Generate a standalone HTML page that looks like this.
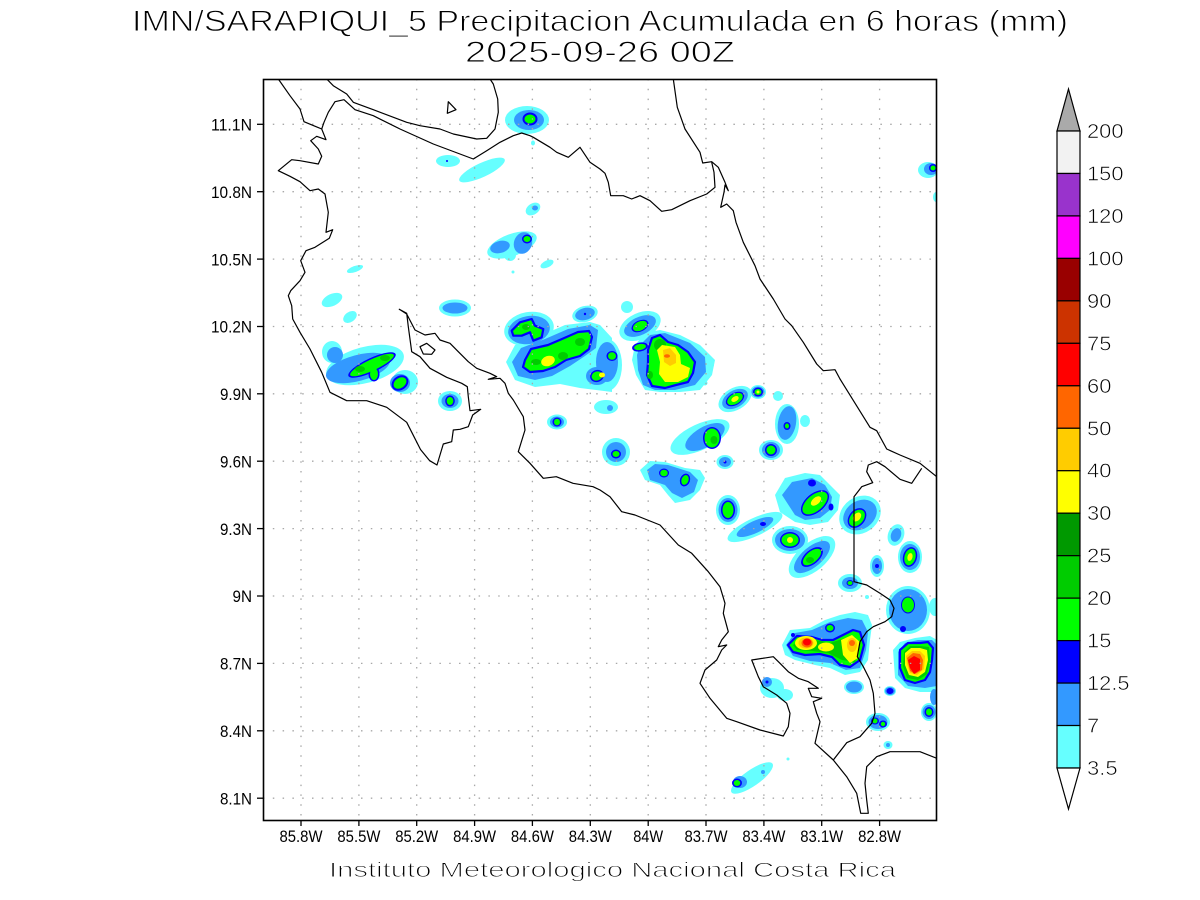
<!DOCTYPE html>
<html><head><meta charset="utf-8"><style>
html,body{margin:0;padding:0;background:#fff;}
svg{display:block;}
.c{fill:#66ffff}.l{fill:#3399ff}.b{fill:#0000ff}.g{fill:#00ff00}.g2{fill:#00cc00}.g3{fill:#009900}
.y{fill:#ffff00}.o1{fill:#ffcc00}.o2{fill:#ff6600}.r{fill:#ff0000}
.gs{fill:#00ff00;stroke:#0000ff;stroke-width:2.2;stroke-linejoin:round}
.coast{fill:none;stroke:#000;stroke-width:1.2;stroke-linejoin:round}
.grid{stroke:#a8a8a8;stroke-width:1.3;stroke-dasharray:1.5 8.3}
text{font-family:"Liberation Sans",sans-serif;fill:#000}
.thin{stroke:#fff;stroke-width:0.9;paint-order:normal}
.thin2{stroke:#fff;stroke-width:0.6;paint-order:normal}
</style></head><body>
<svg width="1200" height="900" viewBox="0 0 1200 900" xmlns="http://www.w3.org/2000/svg">
<defs><clipPath id="fr"><rect x="263" y="79" width="673" height="741"/></clipPath></defs>
<rect width="1200" height="900" fill="#fff"/>

<text class="thin" x="600" y="31" font-size="30" text-anchor="middle" textLength="936" lengthAdjust="spacingAndGlyphs">IMN/SARAPIQUI_5 Precipitacion Acumulada en 6 horas (mm)</text>
<text class="thin" x="600" y="62" font-size="30" text-anchor="middle" textLength="270" lengthAdjust="spacingAndGlyphs">2025-09-26 00Z</text>

<g clip-path="url(#fr)">
<!-- cyan -->
<g class="c">
<ellipse cx="527" cy="120" rx="22" ry="14"/>
<ellipse cx="533" cy="143" rx="2" ry="2.5"/>
<ellipse cx="448" cy="161" rx="12" ry="6"/>
<ellipse cx="482" cy="170" rx="25" ry="7" transform="rotate(-25 482 170)"/>
<ellipse cx="928" cy="170" rx="10" ry="8"/>
<ellipse cx="936" cy="197" rx="3" ry="5"/>
<ellipse cx="533" cy="209" rx="8" ry="5.5" transform="rotate(-35 533 209)"/>
<ellipse cx="512" cy="245" rx="26" ry="11" transform="rotate(-20 512 245)"/>
<ellipse cx="510" cy="255" rx="6" ry="6"/>
<ellipse cx="547" cy="264" rx="7" ry="3.5" transform="rotate(-25 547 264)"/>
<circle cx="513" cy="272" r="1.5"/>
<ellipse cx="355" cy="269" rx="8.5" ry="3" transform="rotate(-20 355 269)"/>
<ellipse cx="332" cy="300" rx="11" ry="6" transform="rotate(-25 332 300)"/>
<ellipse cx="350" cy="317" rx="7.5" ry="5" transform="rotate(-35 350 317)"/>
<ellipse cx="455" cy="308" rx="16" ry="8.5"/>
<ellipse cx="365" cy="365" rx="40" ry="18" transform="rotate(-15 365 365)"/>
<ellipse cx="405" cy="382" rx="13" ry="12"/>
<ellipse cx="332" cy="352" rx="10" ry="11"/>
<ellipse cx="450" cy="401" rx="12" ry="10"/>
<ellipse cx="557" cy="422" rx="10" ry="7.5"/>
<ellipse cx="529" cy="329" rx="25" ry="17" transform="rotate(-10 529 329)"/>
<polygon points="506,362 515,345 540,336 565,325 590,322 600,325 612,338 612,392 580,388 560,384 535,387 515,380"/>
<ellipse cx="585" cy="314" rx="13" ry="8" transform="rotate(-15 585 314)"/>
<ellipse cx="606" cy="407" rx="12" ry="7"/>
<circle cx="627" cy="307" r="6"/>
<ellipse cx="640" cy="326" rx="22" ry="13" transform="rotate(-25 640 326)"/>
<ellipse cx="607" cy="365" rx="15" ry="26"/>
<polygon points="635,345 645,333 660,330 680,335 700,345 715,360 712,375 700,390 680,392 660,392 645,390 636,375 632,360"/>
<ellipse cx="735" cy="399" rx="18" ry="11" transform="rotate(-30 735 399)"/>
<ellipse cx="758" cy="392" rx="8" ry="7"/>
<circle cx="778" cy="396" r="5"/>
<ellipse cx="787" cy="424" rx="12" ry="20"/>
<ellipse cx="805" cy="421" rx="5" ry="6"/>
<ellipse cx="700" cy="437" rx="32" ry="13" transform="rotate(-25 700 437)"/>
<ellipse cx="708" cy="365" rx="6" ry="4"/>
<circle cx="705" cy="383" r="2.5"/>
<ellipse cx="771" cy="450" rx="12" ry="10"/>
<ellipse cx="616" cy="452" rx="14" ry="14"/>
<ellipse cx="725" cy="462" rx="8.5" ry="7"/>
<polygon points="640,470 650,461 665,462 685,468 700,470 705,478 700,490 690,500 675,503 668,495 660,485 645,480"/>
<ellipse cx="728" cy="510" rx="12" ry="15"/>
<ellipse cx="755" cy="527" rx="30" ry="9" transform="rotate(-25 755 527)"/>
<ellipse cx="790" cy="540" rx="18" ry="14"/>
<polygon points="775,495 785,478 805,473 820,475 830,485 840,495 838,510 828,522 810,525 795,522 780,512"/>
<ellipse cx="812" cy="557" rx="28" ry="14" transform="rotate(-40 812 557)"/>
<ellipse cx="860" cy="515" rx="22" ry="18" transform="rotate(-35 860 515)"/>
<ellipse cx="896" cy="535" rx="8" ry="11" transform="rotate(20 896 535)"/>
<ellipse cx="877" cy="566" rx="7" ry="11"/>
<ellipse cx="910" cy="557" rx="12" ry="16"/>
<ellipse cx="850" cy="583" rx="12" ry="9"/>
<circle cx="867" cy="597" r="2"/>
<ellipse cx="908" cy="610" rx="22" ry="24"/>
<ellipse cx="935" cy="607" rx="6" ry="9"/>
<polygon points="782,645 790,630 810,628 825,620 840,615 855,612 868,615 872,625 870,640 868,660 860,672 845,675 830,668 815,665 795,660 785,655"/>
<polygon points="893,650 900,642 915,638 930,636 937,640 937,692 920,692 905,688 895,678"/>
<ellipse cx="854" cy="687" rx="10" ry="7"/>
<ellipse cx="772" cy="688" rx="12" ry="10"/>
<ellipse cx="785" cy="695" rx="8" ry="6"/>
<ellipse cx="890" cy="691" rx="6" ry="5"/>
<ellipse cx="929" cy="712" rx="8" ry="9"/>
<ellipse cx="878" cy="722" rx="12" ry="9"/>
<ellipse cx="888" cy="745" rx="4.5" ry="4"/>
<ellipse cx="752" cy="778" rx="25" ry="8" transform="rotate(-35 752 778)"/>
<circle cx="788" cy="759" r="1.5"/>
</g>
<!-- light blue -->
<g class="l">
<ellipse cx="529" cy="120" rx="15" ry="10"/>
<ellipse cx="931" cy="169" rx="7" ry="6"/>
<ellipse cx="535" cy="208" rx="3" ry="2.5"/>
<ellipse cx="500" cy="247" rx="10" ry="6" transform="rotate(-15 500 247)"/>
<ellipse cx="523" cy="243" rx="9" ry="11" transform="rotate(20 523 243)"/>
<ellipse cx="455" cy="308" rx="12.5" ry="5.5"/>
<ellipse cx="358" cy="368" rx="33" ry="13" transform="rotate(-15 358 368)"/>
<ellipse cx="335" cy="355" rx="8" ry="8"/>
<ellipse cx="400" cy="383" rx="10" ry="9"/>
<ellipse cx="450" cy="401" rx="8.5" ry="7"/>
<ellipse cx="557" cy="422" rx="7" ry="5.5"/>
<ellipse cx="529" cy="330" rx="21" ry="14" transform="rotate(-10 529 330)"/>
<polygon points="512,362 521,348 545,339 568,329 590,325 598,330 596,348 585,356 570,366 552,376 535,380 518,376"/>
<ellipse cx="597" cy="376" rx="11" ry="9"/>
<ellipse cx="585" cy="314" rx="10" ry="6" transform="rotate(-15 585 314)"/>
<ellipse cx="610" cy="408" rx="3" ry="3"/>
<ellipse cx="640" cy="326" rx="17" ry="9" transform="rotate(-25 640 326)"/>
<ellipse cx="607" cy="362" rx="11" ry="20"/>
<polygon points="640,345 650,335 665,333 690,343 705,357 706,372 695,385 675,390 655,390 643,385 638,370 637,355"/>
<ellipse cx="735" cy="399" rx="14" ry="8.5" transform="rotate(-30 735 399)"/>
<ellipse cx="758" cy="392" rx="6.5" ry="5.5"/>
<ellipse cx="787" cy="423" rx="9" ry="17" transform="rotate(10 787 423)"/>
<ellipse cx="705" cy="437" rx="22" ry="10" transform="rotate(-30 705 437)"/>
<ellipse cx="771" cy="450" rx="9" ry="8"/>
<ellipse cx="616" cy="452" rx="10" ry="10"/>
<ellipse cx="725" cy="462" rx="6" ry="5"/>
<polygon points="647,470 655,464 668,465 690,472 698,480 694,492 682,498 672,493 665,485 650,480"/>
<ellipse cx="728" cy="510" rx="9.5" ry="12"/>
<ellipse cx="755" cy="527" rx="20" ry="6" transform="rotate(-25 755 527)"/>
<ellipse cx="790" cy="540" rx="15" ry="11"/>
<polygon points="782,495 792,482 812,478 825,485 832,497 830,510 820,518 805,520 795,515"/>
<ellipse cx="812" cy="557" rx="22" ry="10" transform="rotate(-40 812 557)"/>
<ellipse cx="860" cy="515" rx="18" ry="14" transform="rotate(-35 860 515)"/>
<ellipse cx="896" cy="535" rx="5" ry="7" transform="rotate(20 896 535)"/>
<ellipse cx="877" cy="566" rx="5" ry="8"/>
<ellipse cx="910" cy="557" rx="10" ry="13"/>
<ellipse cx="850" cy="583" rx="8" ry="6"/>
<ellipse cx="908" cy="610" rx="19" ry="21"/>
<polygon points="786,645 795,633 812,630 830,622 848,618 862,620 868,632 866,650 860,668 846,670 830,663 810,661 793,656"/>
<polygon points="898,652 905,643 918,640 932,640 937,645 937,686 925,688 908,686 898,675"/>
<ellipse cx="854" cy="687" rx="8" ry="5.5"/>
<ellipse cx="767" cy="682" rx="5" ry="5"/>
<ellipse cx="890" cy="691" rx="5" ry="4"/>
<ellipse cx="929" cy="712" rx="6.5" ry="7"/>
<ellipse cx="934" cy="697" rx="4" ry="8"/>
<ellipse cx="878" cy="722" rx="9.5" ry="7"/>
<circle cx="888" cy="745" r="2"/>
<ellipse cx="740" cy="782" rx="7" ry="6"/>
<circle cx="763" cy="772" r="2"/>
</g>
<!-- blue -->
<g class="b">
<ellipse cx="530" cy="119" rx="7.5" ry="6.5"/>
<circle cx="447" cy="161" r="1"/>
<circle cx="933" cy="168" r="4"/>
<ellipse cx="527" cy="239" rx="5" ry="4.5"/>
<ellipse cx="372" cy="365" rx="26" ry="7" transform="rotate(-25 372 365)"/>
<ellipse cx="374" cy="374" rx="5.5" ry="7.5"/>
<ellipse cx="400" cy="383" rx="9" ry="7" transform="rotate(-35 400 383)"/>
<ellipse cx="450" cy="401" rx="4.8" ry="5.5"/>
<ellipse cx="557" cy="422" rx="4.5" ry="4.5"/>
<ellipse cx="597" cy="376" rx="7" ry="6" transform="rotate(-20 597 376)"/>
<circle cx="585" cy="314" r="1.2"/>
<ellipse cx="640" cy="326" rx="9" ry="5.5" transform="rotate(-25 640 326)"/>
<ellipse cx="612" cy="356" rx="5.5" ry="5"/>
<ellipse cx="640" cy="347" rx="8" ry="4.5" transform="rotate(-10 640 347)"/>
<ellipse cx="735" cy="399" rx="10" ry="6" transform="rotate(-30 735 399)"/>
<ellipse cx="758" cy="392" rx="5" ry="4.5"/>
<ellipse cx="787" cy="426" rx="3.5" ry="4"/>
<ellipse cx="712" cy="438" rx="9" ry="11"/>
<circle cx="771" cy="450" r="6"/>
<ellipse cx="616" cy="454" rx="5" ry="4.5"/>
<circle cx="725" cy="462" r="1.5"/>
<ellipse cx="664" cy="473" rx="5" ry="4.5"/>
<ellipse cx="685" cy="480" rx="5" ry="6.5" transform="rotate(20 685 480)"/>
<ellipse cx="728" cy="510" rx="7" ry="9.5"/>
<ellipse cx="763" cy="524" rx="3" ry="2"/>
<ellipse cx="790" cy="540" rx="10" ry="8"/>
<ellipse cx="812" cy="483" rx="4" ry="3.5"/>
<ellipse cx="831" cy="507" rx="2.5" ry="3.5"/>
<ellipse cx="815" cy="503" rx="16.5" ry="9.5" transform="rotate(-40 815 503)"/>
<ellipse cx="812" cy="557" rx="13" ry="7" transform="rotate(-40 812 557)"/>
<ellipse cx="857" cy="518" rx="11" ry="8" transform="rotate(-50 857 518)"/>
<circle cx="877" cy="566" r="2"/>
<ellipse cx="910" cy="557" rx="7" ry="10" transform="rotate(15 910 557)"/>
<ellipse cx="850" cy="583" rx="3.5" ry="3"/>
<ellipse cx="908" cy="605" rx="7" ry="8.5"/>
<circle cx="903" cy="629" r="3"/>
<ellipse cx="830" cy="628" rx="5" ry="4.5"/>
<circle cx="793" cy="635" r="2"/>
<circle cx="767" cy="682" r="1.5"/>
<ellipse cx="890" cy="691" rx="3.5" ry="3"/>
<ellipse cx="929" cy="712" rx="4.5" ry="5"/>
<ellipse cx="875" cy="721" rx="4" ry="3.5"/>
<ellipse cx="883" cy="724" rx="4" ry="3.5"/>
<ellipse cx="737" cy="783" rx="5" ry="4.5"/>
</g>
<!-- green -->
<g class="g">
<ellipse cx="530" cy="119" rx="5.5" ry="4.5"/>
<circle cx="933" cy="168" r="2.5"/>
<ellipse cx="527" cy="239" rx="3.5" ry="3"/>
<ellipse cx="372" cy="365" rx="24" ry="5.5" transform="rotate(-25 372 365)"/>
<ellipse cx="374" cy="374" rx="4" ry="6"/>
<ellipse cx="400" cy="383" rx="7" ry="5" transform="rotate(-35 400 383)"/>
<ellipse cx="450" cy="401" rx="3.3" ry="4"/>
<ellipse cx="557" cy="422" rx="3" ry="3.3"/>
<ellipse cx="597" cy="376" rx="5.5" ry="4.5" transform="rotate(-20 597 376)"/>
<ellipse cx="640" cy="326" rx="7.5" ry="4.5" transform="rotate(-25 640 326)"/>
<ellipse cx="612" cy="356" rx="4" ry="3.7"/>
<ellipse cx="640" cy="347" rx="6" ry="3" transform="rotate(-10 640 347)"/>
<ellipse cx="735" cy="399" rx="8.5" ry="5" transform="rotate(-30 735 399)"/>
<ellipse cx="758" cy="392" rx="3.5" ry="3"/>
<ellipse cx="787" cy="426" rx="2" ry="2.5"/>
<ellipse cx="712" cy="438" rx="7.5" ry="9.5"/>
<circle cx="771" cy="450" r="4.5"/>
<ellipse cx="616" cy="454" rx="3.5" ry="3"/>
<ellipse cx="664" cy="473" rx="3.8" ry="3.3"/>
<ellipse cx="685" cy="480" rx="3.5" ry="5" transform="rotate(20 685 480)"/>
<ellipse cx="728" cy="510" rx="5.5" ry="8"/>
<ellipse cx="790" cy="540" rx="8.5" ry="6.5"/>
<ellipse cx="815" cy="503" rx="15" ry="8" transform="rotate(-40 815 503)"/>
<ellipse cx="812" cy="557" rx="11" ry="5.5" transform="rotate(-40 812 557)"/>
<ellipse cx="857" cy="518" rx="9.5" ry="6.5" transform="rotate(-50 857 518)"/>
<ellipse cx="910" cy="557" rx="5.5" ry="8.5" transform="rotate(15 910 557)"/>
<ellipse cx="850" cy="583" rx="2.5" ry="2"/>
<ellipse cx="908" cy="605" rx="6" ry="7.5"/>
<ellipse cx="830" cy="628" rx="3.5" ry="3"/>
<ellipse cx="929" cy="712" rx="3" ry="3.5"/>
<circle cx="875" cy="721" r="2.5"/>
<circle cx="883" cy="724" r="2.2"/>
<ellipse cx="737" cy="783" rx="3.3" ry="3"/>
</g>
<polygon class="gs" points="511.7,330.7 520,322.3 531.7,319 535,325.7 543.3,329 541.7,337.3 533.3,340.7 530,332.3 521.7,335.7 513.3,335.7"/>
<polygon class="gs" points="525,360 531,349 548,345 562,339 578,332 589,331 592,337 589,349 580,356 566,360 555,367 543,371 530,372 523,367"/>
<polygon class="gs" points="648,350 652,338 660,335 668,342 678,345 688,352 695,362 693,373 688,382 676,385 665,388 652,386 647,375 648,362"/>
<polygon class="gs" points="788,645 797,636 812,637 822,640 833,640 843,635 853,630 860,632 864,645 860,660 850,667 840,665 832,657 820,654 805,655 793,652"/>
<polygon class="gs" points="900,650 908,643 920,643 928,642 933,648 932,660 930,672 925,680 915,683 905,680 900,668"/>
<!-- dark greens -->
<g class="g2">
<ellipse cx="360" cy="369" rx="5" ry="3"/>
<ellipse cx="385" cy="358" rx="5" ry="3"/>
<ellipse cx="526" cy="327" rx="4" ry="3"/>
<ellipse cx="580" cy="342" rx="5" ry="4"/>
<ellipse cx="563" cy="356" rx="5" ry="4"/>
<ellipse cx="536" cy="362" rx="5" ry="3"/>
<ellipse cx="660" cy="345" rx="6" ry="6"/>
<ellipse cx="650" cy="375" rx="3" ry="4"/>
<ellipse cx="714" cy="440" rx="3.5" ry="4"/>
<ellipse cx="810" cy="560" rx="4" ry="3"/>
<polygon points="793,645 802,639 815,640 830,643 845,638 855,637 860,648 855,662 842,660 828,653 812,651 797,650"/>
<polygon points="904,652 910,646 920,646 929,647 930,660 927,674 918,680 907,678 903,666"/>
</g>
<!-- yellows -->
<g class="y">
<ellipse cx="548" cy="361" rx="7" ry="5" transform="rotate(-20 548 361)"/>
<ellipse cx="602" cy="375" rx="3" ry="2.5"/>
<polygon points="657,350 662,345 675,347 680,355 681,364 690,368 688,377 678,382 665,382 659,374 660,362"/>
<ellipse cx="735" cy="399" rx="4" ry="2.5" transform="rotate(-30 735 399)"/>
<circle cx="758" cy="392" r="1.5"/>
<circle cx="790" cy="540" r="3"/>
<ellipse cx="816" cy="501" rx="6" ry="3.5" transform="rotate(-40 816 501)"/>
<ellipse cx="857" cy="517" rx="5" ry="3.5" transform="rotate(-50 857 517)"/>
<ellipse cx="910" cy="557" rx="2.5" ry="4" transform="rotate(15 910 557)"/>
<ellipse cx="806" cy="643" rx="11" ry="7"/>
<ellipse cx="826" cy="647" rx="8" ry="4.5"/>
<polygon points="841,640 852,635 860,642 858,658 850,663 843,655"/>
<polygon points="905,653 911,648 920,648 927,650 928,660 925,672 918,677 909,675 905,665"/>
</g>
<g class="o1">
<polygon points="663,350 670,348 676,355 676,363 670,366 664,362"/>
<ellipse cx="806" cy="643" rx="7.5" ry="5.5"/>
<ellipse cx="852" cy="645" rx="5" ry="7"/>
<polygon points="906,656 912,651 920,651 925,656 924,669 917,675 910,673 907,664"/>
</g>
<g class="o2">
<ellipse cx="667" cy="356" rx="3" ry="1.8"/>
<ellipse cx="807" cy="643" rx="5.5" ry="4.5"/>
<circle cx="852" cy="643" r="3"/>
<polygon points="907,658 913,653 920,654 923,660 922,670 915,674 910,671"/>
</g>
<g class="r">
<ellipse cx="807" cy="642" rx="4" ry="3.5"/>
<polygon points="908,660 914,656 920,659 920,670 914,674 910,668"/>
</g>

<!-- grid -->
<g class="grid">
<line x1="301" y1="79" x2="301" y2="820"/><line x1="358.9" y1="79" x2="358.9" y2="820"/>
<line x1="416.7" y1="79" x2="416.7" y2="820"/><line x1="474.6" y1="79" x2="474.6" y2="820"/>
<line x1="532.4" y1="79" x2="532.4" y2="820"/><line x1="590.3" y1="79" x2="590.3" y2="820"/>
<line x1="648.2" y1="79" x2="648.2" y2="820"/><line x1="706" y1="79" x2="706" y2="820"/>
<line x1="763.9" y1="79" x2="763.9" y2="820"/><line x1="821.7" y1="79" x2="821.7" y2="820"/>
<line x1="879.6" y1="79" x2="879.6" y2="820"/>
<line x1="263" y1="124.3" x2="936" y2="124.3"/><line x1="263" y1="191.7" x2="936" y2="191.7"/>
<line x1="263" y1="259.1" x2="936" y2="259.1"/><line x1="263" y1="326.5" x2="936" y2="326.5"/>
<line x1="263" y1="393.8" x2="936" y2="393.8"/><line x1="263" y1="461.2" x2="936" y2="461.2"/>
<line x1="263" y1="528.6" x2="936" y2="528.6"/><line x1="263" y1="596" x2="936" y2="596"/>
<line x1="263" y1="663.4" x2="936" y2="663.4"/><line x1="263" y1="730.8" x2="936" y2="730.8"/>
<line x1="263" y1="798.2" x2="936" y2="798.2"/>
</g>

<!-- coastlines / borders -->
<polyline class="coast" points="278.3,79 290,95.7 300,109 304,121.7 321.7,129 326,139.7 316.7,136.3 310.7,140.7 318.3,149 321.7,156.3 318.3,164 300,160.7 291.7,159.7 278.3,170.7 290,176.3 300,181.7 310,190.7 318.3,189 325,194 328.3,212.3 326,232.3 332.7,229.7 329.3,238.3 315,247.3 306,250.7 300.7,260.7 305,272.3 300,280.7 290.7,290.7 288.3,295.7 291.7,305.7 292.7,319 300,332.3 310,349 321.7,372.3 330,392.3 346.7,400.7 366.7,400.7 386.7,407.3 406.7,422.3 420.5,449.5 429.7,460.7 437,465 443.3,444 451.7,441.7 453.3,430 460,429.3 468.3,426.7 472.7,415 480.7,409.3 470,410.7 468.3,396.7 467.3,386.7 461.7,383.3 446.7,377.3 430,368.3 420,356.7 411.7,351.7 408.3,326.7 406.7,313.3 399.3,309.3 406.7,314 415,330 425,335 435,333.3 440,340 450,343.3 458.3,351.7 468.3,361.7 476.7,368.3 490,373.3 496.7,376.7 488.3,379.3 500,378.3 505,383.3 508.3,393.3 513.3,400 523.3,416.7 525,430 518.3,451.7 530,463.3 543.3,478.3 556.3,476.7 573,483.3 593,486.7 600,490 610,496.7 621.7,511.7 635,515 660,525 678.3,545 691.7,553.3 708.3,571.7 720,586.7 725,603.3 723.3,613.3 728.3,631.7 721.7,640 718.3,646.7 726.7,645 721.7,650 716.7,660 705,670 700,683.3 710,698.3 726.7,718.3 736.7,721.7 760,730 783.3,736 788.3,726.7 790,713.3 786.7,703.3 776.7,695 763.3,686.7 758.3,676.7 751.7,660 773.3,656.7 780,663.3 788.3,671.7 798.3,678.3 808.3,681.7 818.3,688.3 808.3,688.3 811.7,696.7 821.7,698.3 813.3,701.7 816.7,713.3 820,721.7 815,743.3 833.3,760 846.7,776.7 856.7,793.3 860.7,813.3 868.3,813.3 866.7,800 865,783.3 866.7,766.7 876.7,756.7 890,751.7 920,751.7 936.7,758.3"/>
<polyline class="coast" points="321.7,129 324,122.3 328.3,112.3 335,101.7 344,99.7 355,109.7 373.3,115.7 400,129 433.3,144 473.3,159 486.7,150.7 500,142.3 513.3,135.7 521.7,133 530,135.7 533.3,137.3 550,147.3 556.7,152.3 568.3,157.3 580,147.3 590,162.3 600,169 605,173.3 608.3,182.3 610.7,195.7 623.3,195.7 631.7,199 640,195.7 650,200.7 661.7,211.3 671.7,209.7 690,200.7 706.7,194 715,187.3 714,172.3 711.7,162.3"/>
<polyline class="coast" points="326.7,79 333.3,85.7 346.7,94 353.3,102.3 373.3,109.7 406.7,122.3 420,125.7 440,129 453.3,134 476.7,139 486.7,138.3 495,129 498.3,112.3 497.7,99 493.3,84 490,79"/>
<polygon class="coast" points="448.3,101.7 456,109.7 447.3,113.3"/>
<polygon class="coast" points="420,346.7 426.7,343.3 435,350 431.7,354.3 423.3,354"/>
<polyline class="coast" points="673.3,79 677.3,107.3 685,129 700,152.3 702.7,163 711.7,161.7 718.3,167.3 725,182.3 728.3,190.7 725,185 724,192.3 720.7,207.3 726.7,204 733.3,210.7 736,222.3 743.3,242.3 755,265.7 760,279 773.3,299 785,319 791.7,325.7 803.3,342.3 816.7,364 823.3,370.7 835,369.7 840,379 870,427.3 876.7,430.7 886.7,449 900,455 920,463.3 936.7,476.7"/>
<polyline class="coast" points="921.7,468.3 911.7,483.3 900,479.3 885,466.7 876.7,461.7 868.3,465 866.7,471.7 872.7,482.7 861.7,486.7 854,496.7 854,581.7 866.7,585 880,593.3 890,600 894,608.3 891.7,616.7 885,621.7 873.3,626.7 866.7,631.7 860,641.7 857.3,656.7 863.3,666.7 870,680 873.3,693.3 875,713.3 871.7,723.3 860,736.7 846.7,742.7 833.3,760"/>
</g>

<!-- frame -->
<rect x="263.5" y="79.5" width="673" height="741" fill="none" stroke="#000" stroke-width="1.6"/>
<g stroke="#000" stroke-width="1.3">
<line x1="257" y1="124.3" x2="263" y2="124.3"/><line x1="257" y1="191.7" x2="263" y2="191.7"/>
<line x1="257" y1="259.1" x2="263" y2="259.1"/><line x1="257" y1="326.5" x2="263" y2="326.5"/>
<line x1="257" y1="393.8" x2="263" y2="393.8"/><line x1="257" y1="461.2" x2="263" y2="461.2"/>
<line x1="257" y1="528.6" x2="263" y2="528.6"/><line x1="257" y1="596" x2="263" y2="596"/>
<line x1="257" y1="663.4" x2="263" y2="663.4"/><line x1="257" y1="730.8" x2="263" y2="730.8"/>
<line x1="257" y1="798.2" x2="263" y2="798.2"/>
<line x1="301" y1="820" x2="301" y2="826"/><line x1="358.9" y1="820" x2="358.9" y2="826"/>
<line x1="416.7" y1="820" x2="416.7" y2="826"/><line x1="474.6" y1="820" x2="474.6" y2="826"/>
<line x1="532.4" y1="820" x2="532.4" y2="826"/><line x1="590.3" y1="820" x2="590.3" y2="826"/>
<line x1="648.2" y1="820" x2="648.2" y2="826"/><line x1="706" y1="820" x2="706" y2="826"/>
<line x1="763.9" y1="820" x2="763.9" y2="826"/><line x1="821.7" y1="820" x2="821.7" y2="826"/>
<line x1="879.6" y1="820" x2="879.6" y2="826"/>
</g>

<!-- y labels -->
<g font-size="17" text-anchor="end">
<text x="252" y="130.5" textLength="41" lengthAdjust="spacingAndGlyphs">11.1N</text>
<text x="252" y="197.9" textLength="41" lengthAdjust="spacingAndGlyphs">10.8N</text>
<text x="252" y="265.3" textLength="41" lengthAdjust="spacingAndGlyphs">10.5N</text>
<text x="252" y="332.7" textLength="41" lengthAdjust="spacingAndGlyphs">10.2N</text>
<text x="252" y="400" textLength="32" lengthAdjust="spacingAndGlyphs">9.9N</text>
<text x="252" y="467.4" textLength="32" lengthAdjust="spacingAndGlyphs">9.6N</text>
<text x="252" y="534.8" textLength="32" lengthAdjust="spacingAndGlyphs">9.3N</text>
<text x="252" y="602.2" textLength="19.5" lengthAdjust="spacingAndGlyphs">9N</text>
<text x="252" y="669.6" textLength="32" lengthAdjust="spacingAndGlyphs">8.7N</text>
<text x="252" y="737" textLength="32" lengthAdjust="spacingAndGlyphs">8.4N</text>
<text x="252" y="804.4" textLength="32" lengthAdjust="spacingAndGlyphs">8.1N</text>
</g>
<!-- x labels -->
<g font-size="17" text-anchor="middle">
<text x="301" y="842" textLength="43" lengthAdjust="spacingAndGlyphs">85.8W</text>
<text x="358.9" y="842" textLength="43" lengthAdjust="spacingAndGlyphs">85.5W</text>
<text x="416.7" y="842" textLength="43" lengthAdjust="spacingAndGlyphs">85.2W</text>
<text x="474.6" y="842" textLength="43" lengthAdjust="spacingAndGlyphs">84.9W</text>
<text x="532.4" y="842" textLength="43" lengthAdjust="spacingAndGlyphs">84.6W</text>
<text x="590.3" y="842" textLength="43" lengthAdjust="spacingAndGlyphs">84.3W</text>
<text x="648.2" y="842" textLength="30" lengthAdjust="spacingAndGlyphs">84W</text>
<text x="706" y="842" textLength="43" lengthAdjust="spacingAndGlyphs">83.7W</text>
<text x="763.9" y="842" textLength="43" lengthAdjust="spacingAndGlyphs">83.4W</text>
<text x="821.7" y="842" textLength="43" lengthAdjust="spacingAndGlyphs">83.1W</text>
<text x="879.6" y="842" textLength="43" lengthAdjust="spacingAndGlyphs">82.8W</text>
</g>

<text class="thin" x="329" y="877" font-size="21" textLength="567" lengthAdjust="spacingAndGlyphs">Instituto Meteorologico Nacional Costa Rica</text>

<!-- colorbar -->
<g stroke="#000" stroke-width="1.2">
<polygon points="1068.5,89 1080,131 1057,131" fill="#aaaaaa"/>
<rect x="1057" y="131" width="23" height="42.47" fill="#f2f2f2"/>
<rect x="1057" y="173.47" width="23" height="42.47" fill="#9933cc"/>
<rect x="1057" y="215.93" width="23" height="42.47" fill="#ff00ff"/>
<rect x="1057" y="258.4" width="23" height="42.47" fill="#990000"/>
<rect x="1057" y="300.87" width="23" height="42.47" fill="#cc3300"/>
<rect x="1057" y="343.33" width="23" height="42.47" fill="#ff0000"/>
<rect x="1057" y="385.8" width="23" height="42.47" fill="#ff6600"/>
<rect x="1057" y="428.27" width="23" height="42.47" fill="#ffcc00"/>
<rect x="1057" y="470.73" width="23" height="42.47" fill="#ffff00"/>
<rect x="1057" y="513.2" width="23" height="42.47" fill="#009900"/>
<rect x="1057" y="555.67" width="23" height="42.47" fill="#00cc00"/>
<rect x="1057" y="598.13" width="23" height="42.47" fill="#00ff00"/>
<rect x="1057" y="640.6" width="23" height="42.47" fill="#0000ff"/>
<rect x="1057" y="683.07" width="23" height="42.47" fill="#3399ff"/>
<rect x="1057" y="725.53" width="23" height="42.47" fill="#66ffff"/>
<polygon points="1057,768 1080,768 1068.5,809" fill="#ffffff"/>
</g>
<g font-size="20" class="thin2">
<text x="1087" y="138" textLength="36.5" lengthAdjust="spacingAndGlyphs">200</text>
<text x="1087" y="180.5" textLength="36.5" lengthAdjust="spacingAndGlyphs">150</text>
<text x="1087" y="223" textLength="36.5" lengthAdjust="spacingAndGlyphs">120</text>
<text x="1087" y="265.4" textLength="36.5" lengthAdjust="spacingAndGlyphs">100</text>
<text x="1087" y="307.9" textLength="24.4" lengthAdjust="spacingAndGlyphs">90</text>
<text x="1087" y="350.3" textLength="24.4" lengthAdjust="spacingAndGlyphs">75</text>
<text x="1087" y="392.8" textLength="24.4" lengthAdjust="spacingAndGlyphs">60</text>
<text x="1087" y="435.3" textLength="24.4" lengthAdjust="spacingAndGlyphs">50</text>
<text x="1087" y="477.7" textLength="24.4" lengthAdjust="spacingAndGlyphs">40</text>
<text x="1087" y="520.2" textLength="24.4" lengthAdjust="spacingAndGlyphs">30</text>
<text x="1087" y="562.7" textLength="24.4" lengthAdjust="spacingAndGlyphs">25</text>
<text x="1087" y="605.1" textLength="24.4" lengthAdjust="spacingAndGlyphs">20</text>
<text x="1087" y="647.6" textLength="24.4" lengthAdjust="spacingAndGlyphs">15</text>
<text x="1087" y="690.1" textLength="42.6" lengthAdjust="spacingAndGlyphs">12.5</text>
<text x="1087" y="732.5" textLength="12.2" lengthAdjust="spacingAndGlyphs">7</text>
<text x="1087" y="775" textLength="30.7" lengthAdjust="spacingAndGlyphs">3.5</text>
</g>
</svg>
</body></html>
